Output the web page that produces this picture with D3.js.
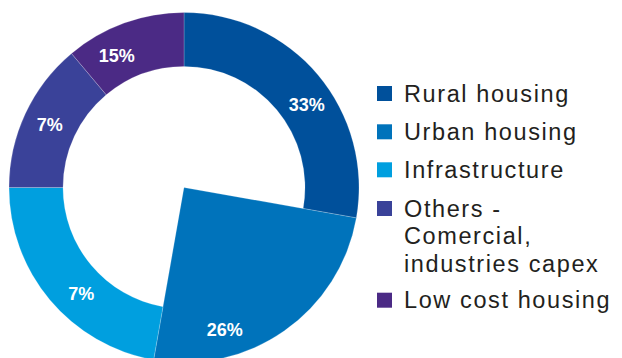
<!DOCTYPE html>
<html>
<head>
<meta charset="utf-8">
<script src="https://cdn.jsdelivr.net/npm/d3@7"></script>
<style>
  body { margin: 0; background: #fff; }
  svg { display: block; }
</style>
</head>
<body>
<div id="chart"></div>
<script>
// data
var categories = ["Rural housing", "Urban housing", "Infrastructure", "Others - Comercial, industries capex", "Low cost housing"];
var legendLines = [["Rural housing"], ["Urban housing"], ["Infrastructure"], ["Others -", "Comercial,", "industries capex"], ["Low cost housing"]];
// slice sizes as drawn (degrees of the ring)
var drawnShare = [100, 90, 80, 50, 40];
// printed labels
var labels = ["33%", "26%", "7%", "7%", "15%"];
var colors = ["#00509b", "#0073bb", "#009fdf", "#3a4299", "#4b2a85"];

var width = 622, height = 358;
var cx = 184, cy = 187.5, outerR = 175, innerR = 121;
// label placement: angle (deg from top, clockwise) and radius
var labelAngle = [56, 164, 224, 295, 333];
var labelR = 148;

var svg = d3.select("#chart").append("svg")
    .attr("width", width)
    .attr("height", height);

var g = svg.append("g").attr("transform", `translate(${cx},${cy})`);

var pie = d3.pie().sort(null).value(d => d);
var arcs = pie(drawnShare);

g.selectAll("path")
    .data(arcs)
    .enter()
    .append("path")
    .attr("d", (d, i) => d3.arc()
        .innerRadius(i === 1 ? 0 : innerR)
        .outerRadius(outerR)(d))
    .attr("fill", (d, i) => colors[i])
    .attr("stroke", "#fff")
    .attr("stroke-width", 0.4)
    .attr("stroke-opacity", 0.5);

g.selectAll("text.lbl")
    .data(labels)
    .enter()
    .append("text")
    .attr("class", "lbl")
    .attr("x", (d, i) => labelR * Math.sin(labelAngle[i] * Math.PI / 180))
    .attr("y", (d, i) => -labelR * Math.cos(labelAngle[i] * Math.PI / 180))
    .attr("dy", "0.36em")
    .attr("text-anchor", "middle")
    .style("font-family", "'Liberation Sans', Arial, sans-serif")
    .style("font-weight", "bold")
    .style("font-size", "18px")
    .style("fill", "#fff")
    .text(d => d);

// legend
var legend = svg.append("g").attr("transform", "translate(377,0)");
var rowTop = [86, 124.3, 162.3, 201, 292.7];
var lineGap = 27.6;

categories.forEach((c, i) => {
    var row = legend.append("g").attr("transform", `translate(0,${rowTop[i]})`);
    row.append("rect")
        .attr("width", 15)
        .attr("height", 15)
        .attr("fill", colors[i]);
    var t = row.append("text")
        .attr("x", 27)
        .attr("y", 15.7)
        .style("font-family", "'Liberation Sans', Arial, sans-serif")
        .style("font-size", "23.5px")
        .style("letter-spacing", "1.6px")
        .style("fill", "#231f20");
    legendLines[i].forEach((line, j) => {
        t.append("tspan")
            .attr("x", 27)
            .attr("y", 15.7 + j * lineGap)
            .text(line);
    });
});
</script>
</body>
</html>
